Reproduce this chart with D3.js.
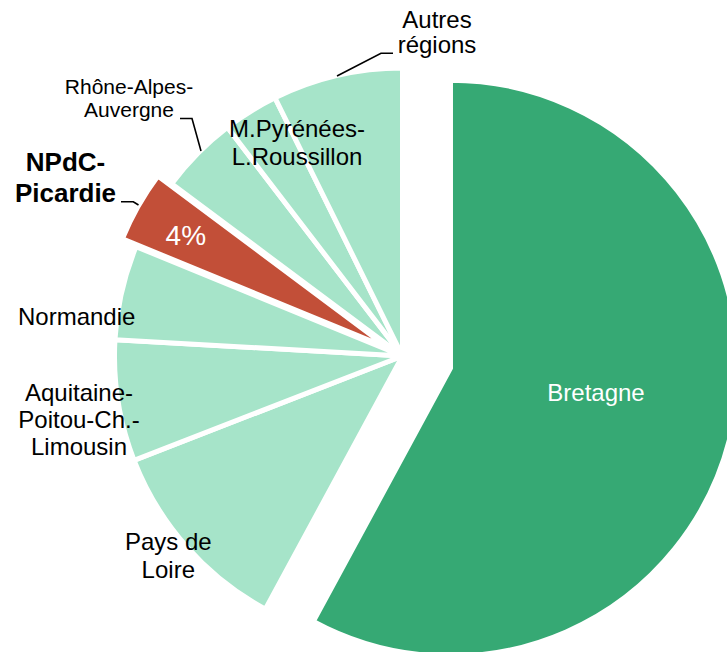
<!DOCTYPE html>
<html lang="fr">
<head>
<meta charset="utf-8">
<script src="https://cdn.jsdelivr.net/npm/d3@7"></script>
<style>
  html, body { margin: 0; padding: 0; background: #fff; }
  svg { display: block; font-family: "Liberation Sans", Arial, Helvetica, sans-serif; }
</style>
</head>
<body>
<svg id="chart" width="727" height="652"></svg>
<script>
// Regional shares (%), clockwise from 12 o'clock
const regions = [
  "Bretagne",
  "Pays de Loire",
  "Aquitaine-Poitou-Ch.-Limousin",
  "Normandie",
  "NPdC-Picardie",
  "Rhône-Alpes-Auvergne",
  "M.Pyrénées-L.Roussillon",
  "Autres régions"
];
const shares = [57.9, 11.2, 6.8, 5.3, 4, 4.4, 3.1, 7.3];
const highlighted = "NPdC-Picardie";
const featured = "Bretagne";

const width = 727, height = 652;
const cx = 402.5, cy = 356, radius = 288;

const colors = {
  base: "#a6e4c9",
  featured: "#36a974",
  highlight: "#c24f38"
};
// outward offset of pulled-out slices
const pull = { "Bretagne": 49.5, "NPdC-Picardie": 15.8 };

const svg = d3.select("#chart");
const g = svg.append("g").attr("transform", `translate(${cx},${cy})`);

const pie = d3.pie().sort(null).value(d => d.value);
const arc = d3.arc().innerRadius(0).outerRadius(radius);

const data = regions.map((name, i) => ({ name, value: shares[i] }));
const arcs = pie(data);

function offset(d) {
  const e = pull[d.data.name] || 0;
  const mid = (d.startAngle + d.endAngle) / 2;
  return [e * Math.sin(mid), -e * Math.cos(mid)];
}

g.selectAll("path.slice")
  .data(arcs)
  .join("path")
  .attr("class", "slice")
  .attr("transform", d => { const [dx, dy] = offset(d); return `translate(${dx},${dy})`; })
  .attr("d", arc)
  .attr("fill", d => d.data.name === featured ? colors.featured
                    : d.data.name === highlighted ? colors.highlight : colors.base)
  .attr("stroke", "#fff")
  .attr("stroke-width", 5)
  .attr("stroke-linejoin", "miter");

// Labels (page coordinates)
const labels = [
  { name: "Autres régions", lines: ["Autres", "régions"], x: 437, y: 28.3, lh: 25, size: 24 },
  { name: "Rhône-Alpes-Auvergne", lines: ["Rhône-Alpes-", "Auvergne"], x: 129, y: 94.3, lh: 23, size: 21 },
  { name: "M.Pyrénées-L.Roussillon", lines: ["M.Pyrénées-", "L.Roussillon"], x: 297, y: 137.3, lh: 27.7, size: 24 },
  { name: "NPdC-Picardie", lines: ["NPdC-", "Picardie"], x: 65.5, y: 170.7, lh: 31, size: 26, bold: true },
  { name: "Normandie", lines: ["Normandie"], x: 76.7, y: 325, lh: 27, size: 24 },
  { name: "Aquitaine-Poitou-Ch.-Limousin", lines: ["Aquitaine-", "Poitou-Ch.-", "Limousin"], x: 79, y: 400.7, lh: 27.2, size: 24 },
  { name: "Pays de Loire", lines: ["Pays de", "Loire"], x: 168.3, y: 550, lh: 28.3, size: 24 },
  { name: "Bretagne", lines: ["Bretagne"], x: 596, y: 400.7, lh: 27, size: 24, fill: "#fff" }
];

const lbl = svg.append("g").attr("class", "labels");
labels.forEach(l => {
  const t = lbl.append("text")
    .attr("text-anchor", "middle")
    .attr("font-size", l.size)
    .attr("font-weight", l.bold ? "bold" : "normal")
    .attr("fill", l.fill || "#000");
  l.lines.forEach((line, i) => {
    t.append("tspan").attr("x", l.x).attr("y", l.y + i * l.lh).text(line);
  });
});

// Value label on the highlighted slice
const hi = arcs.find(d => d.data.name === highlighted);
lbl.append("text")
  .attr("x", 185.8).attr("y", 245)
  .attr("text-anchor", "middle")
  .attr("font-size", 28)
  .attr("fill", "#fff")
  .text(d3.format(".0f")(hi.data.value) + "%");

// Leader lines
const leaders = [
  [[337, 76], [381, 53.3], [393, 53.3]],
  [[180, 118.5], [192, 118.5], [201, 151]],
  [[121, 201.7], [133.3, 201.7], [138.5, 205]]
];
const line = d3.line();
svg.append("g").attr("class", "leaders")
  .selectAll("path").data(leaders).join("path")
  .attr("d", line)
  .attr("fill", "none")
  .attr("stroke", "#000")
  .attr("stroke-width", 1.6);
</script>
</body>
</html>
